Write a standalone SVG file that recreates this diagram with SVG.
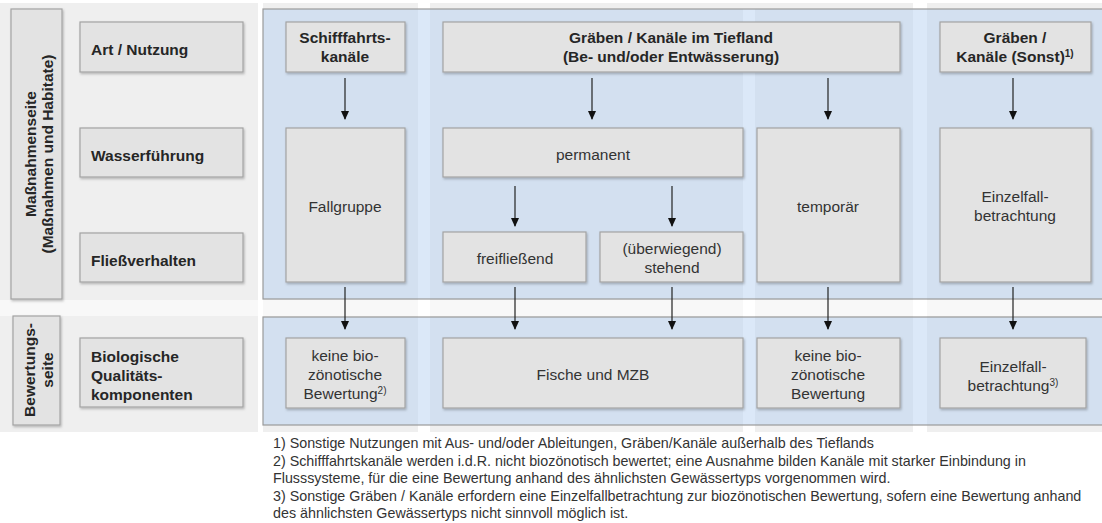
<svg xmlns="http://www.w3.org/2000/svg" width="1102" height="523" viewBox="0 0 1102 523">
<style>
  .bg{fill:#efefef}
  .frame{fill:rgb(183,209,241);fill-opacity:0.5;stroke:#9a9a9a;stroke-width:1.2}
  .box{fill:#e3e3e3;stroke:#a3a3a3;stroke-width:1.2;filter:url(#sh)}
  .b{font-family:"Liberation Sans",Arial,sans-serif;font-weight:bold;font-size:15.5px;fill:#262626}
  .t{font-family:"Liberation Sans",Arial,sans-serif;font-size:15.5px;fill:#333}
  .v{font-size:15.5px}
  .c{text-anchor:middle}
  .fn{font-family:"Liberation Sans",Arial,sans-serif;font-size:14.3px;fill:#333}
  .sup{font-size:10px}
  .conn line{stroke:#222;stroke-width:1.2;marker-end:url(#ah)}
</style>
<defs>
  <filter id="sh" x="-10%" y="-10%" width="130%" height="130%">
    <feDropShadow dx="1" dy="1.5" stdDeviation="1" flood-color="#000" flood-opacity="0.25"/>
  </filter>
  <marker id="ah" markerWidth="10" markerHeight="8" refX="8" refY="4" orient="auto" markerUnits="userSpaceOnUse">
    <path d="M0,0 L9,4 L0,8 Z" fill="#111"/>
  </marker>
</defs>
<rect width="1102" height="523" fill="#fff"/>
<g id="background">
  <rect class="bg" x="0" y="3" width="258" height="429"/>
  <rect class="bg" x="263" y="3" width="155" height="429"/>
  <rect class="bg" x="430" y="3" width="483" height="6"/>
  <rect class="bg" x="430" y="9" width="313" height="423"/>
  <rect class="bg" x="755" y="9" width="158" height="423"/>
  <rect class="bg" x="927" y="3" width="175" height="429"/>
  <rect x="0" y="300" width="1102" height="16" fill="#fff" fill-opacity="0.55"/>
</g>
<g id="frames">
  <rect class="frame" x="263" y="9" width="845" height="290"/>
  <rect class="frame" x="263" y="317" width="845" height="108"/>
</g>
<g id="massnahmenseite">
  <rect class="box" x="11" y="9" width="51" height="290"/>
  <text class="b v c" transform="translate(36,154) rotate(-90)">Maßnahmenseite</text>
  <text class="b v c" transform="translate(53,154) rotate(-90)">(Maßnahmen und Habitate)</text>
</g>
<g id="bewertungsseite">
  <rect class="box" x="13" y="316" width="47" height="109"/>
  <text class="b v c" transform="translate(35,370) rotate(-90)">Bewertungs-</text>
  <text class="b v c" transform="translate(53,370) rotate(-90)">seite</text>
</g>
<g id="art-nutzung">
  <rect class="box" x="80" y="22" width="163" height="50"/>
  <text class="b" x="91" y="55">Art / Nutzung</text>
</g>
<g id="wasserfuehrung">
  <rect class="box" x="80" y="128" width="163" height="49"/>
  <text class="b" x="91" y="161">Wasserführung</text>
</g>
<g id="fliessverhalten">
  <rect class="box" x="80" y="233" width="163" height="49"/>
  <text class="b" x="91" y="266">Fließverhalten</text>
</g>
<g id="biologische">
  <rect class="box" x="80" y="338" width="163" height="69"/>
  <text class="b" x="91" y="362">Biologische</text>
  <text class="b" x="91" y="381">Qualitäts-</text>
  <text class="b" x="91" y="400">komponenten</text>
</g>
<g id="schifffahrtskanaele">
  <rect class="box" x="286" y="22" width="119" height="50"/>
  <text class="b c" x="345" y="43">Schifffahrts-</text>
  <text class="b c" x="345" y="62">kanäle</text>
</g>
<g id="graeben-tiefland">
  <rect class="box" x="443" y="22" width="457" height="50"/>
  <text class="b c" x="671" y="43">Gräben / Kanäle im Tiefland</text>
  <text class="b c" x="671" y="62">(Be- und/oder Entwässerung)</text>
</g>
<g id="graeben-sonst">
  <rect class="box" x="940" y="22" width="151" height="50"/>
  <text class="b c" x="1015" y="43">Gräben /</text>
  <text class="b c" x="1015" y="62">Kanäle (Sonst)<tspan class="sup" dy="-5">1)</tspan></text>
</g>
<g id="fallgruppe">
  <rect class="box" x="286" y="128" width="119" height="154"/>
  <text class="t c" x="345" y="212">Fallgruppe</text>
</g>
<g id="permanent">
  <rect class="box" x="443" y="128" width="300" height="49"/>
  <text class="t c" x="593" y="160">permanent</text>
</g>
<g id="temporaer">
  <rect class="box" x="757" y="128" width="143" height="154"/>
  <text class="t c" x="828" y="212">temporär</text>
</g>
<g id="einzelfall-oben">
  <rect class="box" x="940" y="128" width="151" height="154"/>
  <text class="t c" x="1015" y="202">Einzelfall-</text>
  <text class="t c" x="1015" y="221">betrachtung</text>
</g>
<g id="freifliessend">
  <rect class="box" x="443" y="232" width="143" height="50"/>
  <text class="t c" x="515" y="264">freifließend</text>
</g>
<g id="stehend">
  <rect class="box" x="600" y="232" width="143" height="50"/>
  <text class="t c" x="672" y="254">(überwiegend)</text>
  <text class="t c" x="672" y="273">stehend</text>
</g>
<g id="keine-bio-1">
  <rect class="box" x="286" y="338" width="119" height="70"/>
  <text class="t c" x="345" y="361">keine bio-</text>
  <text class="t c" x="345" y="380">zönotische</text>
  <text class="t c" x="345" y="399">Bewertung<tspan class="sup" dy="-5">2)</tspan></text>
</g>
<g id="fische-mzb">
  <rect class="box" x="443" y="338" width="300" height="70"/>
  <text class="t c" x="593" y="380">Fische und MZB</text>
</g>
<g id="keine-bio-2">
  <rect class="box" x="757" y="338" width="143" height="70"/>
  <text class="t c" x="828" y="361">keine bio-</text>
  <text class="t c" x="828" y="380">zönotische</text>
  <text class="t c" x="828" y="399">Bewertung</text>
</g>
<g id="einzelfall-unten">
  <rect class="box" x="940" y="338" width="146" height="70"/>
  <text class="t c" x="1013" y="372">Einzelfall-</text>
  <text class="t c" x="1013" y="391">betrachtung<tspan class="sup" dy="-5">3)</tspan></text>
</g>
<g id="connectors" class="conn">
  <line x1="345" y1="78" x2="345" y2="119"/>
  <line x1="592" y1="78" x2="592" y2="119"/>
  <line x1="828" y1="78" x2="828" y2="119"/>
  <line x1="1013" y1="78" x2="1013" y2="119"/>
  <line x1="515" y1="186" x2="515" y2="226"/>
  <line x1="672" y1="186" x2="672" y2="226"/>
  <line x1="345" y1="287" x2="345" y2="329"/>
  <line x1="515" y1="287" x2="515" y2="329"/>
  <line x1="672" y1="287" x2="672" y2="329"/>
  <line x1="828" y1="287" x2="828" y2="329"/>
  <line x1="1013" y1="287" x2="1013" y2="329"/>
</g>
<g id="footnotes" class="fn">
  <text x="273" y="448">1) Sonstige Nutzungen mit Aus- und/oder Ableitungen, Gräben/Kanäle außerhalb des Tieflands</text>
  <text x="273" y="466">2) Schifffahrtskanäle werden i.d.R. nicht biozönotisch bewertet; eine Ausnahme bilden Kanäle mit starker Einbindung in</text>
  <text x="273" y="483">Flusssysteme, für die eine Bewertung anhand des ähnlichsten Gewässertyps vorgenommen wird.</text>
  <text x="273" y="501">3) Sonstige Gräben / Kanäle erfordern eine Einzelfallbetrachtung zur biozönotischen Bewertung, sofern eine Bewertung anhand</text>
  <text x="273" y="518">des ähnlichsten Gewässertyps nicht sinnvoll möglich ist.</text>
</g>
</svg>
